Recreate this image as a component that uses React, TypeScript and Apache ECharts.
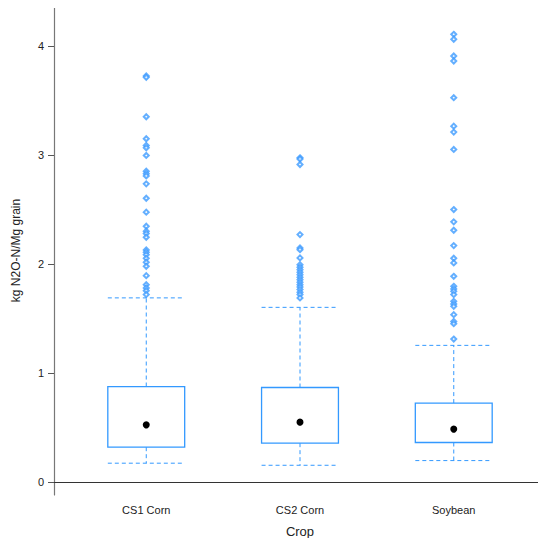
import React, { useEffect, useRef } from "react";
import * as echarts from "echarts";

const categories = ["CS1 Corn", "CS2 Corn", "Soybean"];
const lowerWhisker = [0.172, 0.153, 0.196];
const q1 = [0.319, 0.356, 0.362];
const median = [0.524, 0.549, 0.485];
const q3 = [0.876, 0.867, 0.724];
const upperWhisker = [1.69, 1.603, 1.254];

const outliersCS1 = [
  3.727, 3.715, 3.353, 3.151, 3.09, 3.068, 2.998, 2.853, 2.83, 2.81, 2.737,
  2.605, 2.477, 2.348, 2.302, 2.28, 2.247, 2.13, 2.109, 2.087, 2.053, 2.017,
  1.98, 1.894, 1.811, 1.781, 1.756, 1.72,
];
const outliersCS2 = [
  2.976, 2.965, 2.915, 2.271, 2.149, 2.133, 2.057, 1.995, 1.971, 1.949, 1.925,
  1.903, 1.879, 1.857, 1.834, 1.811, 1.79, 1.766, 1.741, 1.72, 1.69,
];
const outliersSoy = [
  4.11, 4.064, 3.911, 3.865, 3.528, 3.267, 3.212, 3.053, 2.501, 2.388, 2.311,
  2.17, 2.054, 2.011, 1.888, 1.796, 1.772, 1.75, 1.72, 1.658, 1.634, 1.612,
  1.536, 1.474, 1.453, 1.312,
];
const outliers = [outliersCS1, outliersCS2, outliersSoy];
const yTicks = [0, 1, 2, 3, 4];
const xPositions = [1, 2, 3];

const BOX_COLOR = "#3399ff";
const PT_COLOR = "#3d9bff";

export default function App() {
  const ref = useRef<HTMLDivElement>(null);
  useEffect(() => {
    if (!ref.current) return;
    const chart = echarts.init(ref.current, null, { renderer: "svg" });
    const boxData = categories.map((_, i) => [
      xPositions[i],
      lowerWhisker[i],
      q1[i],
      median[i],
      q3[i],
      upperWhisker[i],
    ]);
    const outlierData: number[][] = [];
    outliers.forEach((arr, i) => arr.forEach((v) => outlierData.push([xPositions[i], v])));

    chart.setOption({
      animation: false,
      textStyle: { fontFamily: "Liberation Sans, Arial, sans-serif" },
      grid: { left: 54, right: 0, top: 6, bottom: 51, show: false },
      xAxis: {
        type: "value",
        min: 0.4,
        max: 3.6,
        splitLine: { show: false },
        axisTick: { show: false },
        axisLine: { show: true, lineStyle: { color: "#333", width: 1.2 } },
        axisLabel: {
          color: "#222",
          fontSize: 11,
          margin: 9,
          customValues: xPositions,
          formatter: (v: number) => {
            const idx = xPositions.indexOf(Math.round(v));
            return idx >= 0 ? categories[idx] : "";
          },
        },
        name: "Crop",
        nameLocation: "middle",
        nameGap: 30,
        nameTextStyle: { fontSize: 13, color: "#222" },
      },
      yAxis: {
        type: "value",
        min: -0.12,
        max: 4.37,
        splitLine: { show: false },
        axisLine: { show: true, lineStyle: { color: "#777", width: 1.2 } },
        axisTick: { show: true, length: 6, customValues: yTicks, lineStyle: { color: "#555" } },
        axisLabel: {
          color: "#222",
          fontSize: 11,
          margin: 10,
          customValues: yTicks,
          formatter: (v: number) => String(v),
        },
        name: "kg N2O-N/Mg grain",
        nameLocation: "middle",
        nameGap: 32,
        nameTextStyle: { fontSize: 12, color: "#222" },
      },
      graphic: [
        {
          type: "line",
          shape: { x1: 54, y1: 6.5, x2: 546, y2: 6.5 },
          style: { stroke: "#888", lineWidth: 1.5 },
        },
      ],
      series: [
        {
          type: "custom",
          data: boxData,
          encode: { x: 0, y: [1, 2, 3, 4, 5] },
          renderItem: (params: any, api: any) => {
            const x = api.value(0);
            const lw = api.coord([x, api.value(1)]);
            const b1 = api.coord([x, api.value(2)]);
            const med = api.coord([x, api.value(3)]);
            const b3 = api.coord([x, api.value(4)]);
            const uw = api.coord([x, api.value(5)]);
            const halfW = api.size([0.5, 0])[0] / 2;
            const cx = lw[0];
            const dash = { stroke: BOX_COLOR, lineWidth: 1, lineDash: [4, 3], fill: "none" };
            return {
              type: "group",
              children: [
                { type: "line", shape: { x1: cx, y1: b3[1], x2: cx, y2: uw[1] }, style: dash },
                { type: "line", shape: { x1: cx, y1: b1[1], x2: cx, y2: lw[1] }, style: dash },
                { type: "line", shape: { x1: cx - halfW, y1: uw[1], x2: cx + halfW, y2: uw[1] }, style: dash },
                { type: "line", shape: { x1: cx - halfW, y1: lw[1], x2: cx + halfW, y2: lw[1] }, style: dash },
                {
                  type: "rect",
                  shape: { x: cx - halfW, y: b3[1], width: halfW * 2, height: b1[1] - b3[1] },
                  style: { stroke: BOX_COLOR, lineWidth: 1.3, fill: "none" },
                },
                {
                  type: "circle",
                  shape: { cx: cx, cy: med[1], r: 3.5 },
                  style: { fill: "#000" },
                },
              ],
            };
          },
          z: 2,
        },
        {
          type: "scatter",
          data: outlierData,
          symbol: "emptyDiamond",
          symbolSize: 5,
          itemStyle: { color: PT_COLOR, borderWidth: 0.7 },
          z: 3,
        },
      ],
    });
    return () => chart.dispose();
  }, []);
  return <div ref={ref} style={{ width: 546, height: 546, margin: -8 }} />;
}
